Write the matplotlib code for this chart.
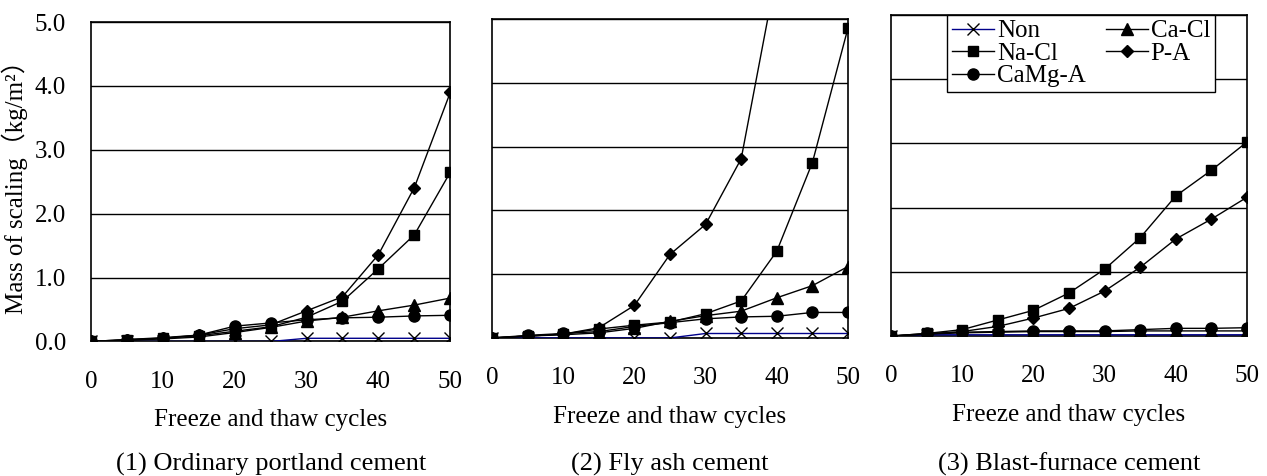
import matplotlib.pyplot as plt
import numpy as np

plt.rcParams['font.family'] = ['Liberation Serif', 'Noto Sans CJK JP']
plt.rcParams['font.size'] = 18

# freeze-thaw cycles
cycles = [0, 5, 10, 15, 20, 25, 30, 35, 40, 45, 50]

# (1) Ordinary portland cement
opc_non = [0.0, 0.0, 0.0, 0.0, 0.0, 0.0, 0.05, 0.05, 0.05, 0.05, 0.05]
opc_cacl = [0.0, 0.02, 0.04, 0.07, 0.14, 0.22, 0.32, 0.38, 0.48, 0.57, 0.68]
opc_nacl = [0.0, 0.02, 0.05, 0.09, 0.16, 0.23, 0.38, 0.63, 1.14, 1.67, 2.65]
opc_pa = [0.0, 0.03, 0.06, 0.10, 0.20, 0.26, 0.48, 0.70, 1.36, 2.41, 3.90]
opc_camg = [0.0, 0.03, 0.05, 0.10, 0.24, 0.29, 0.34, 0.37, 0.38, 0.40, 0.41]

# (2) Fly ash cement
fa_non = [0.0, 0.0, 0.0, 0.0, 0.0, 0.0, 0.07, 0.07, 0.07, 0.07, 0.07]
fa_cacl = [0.0, 0.03, 0.05, 0.08, 0.15, 0.26, 0.35, 0.42, 0.63, 0.82, 1.12]
fa_nacl = [0.0, 0.03, 0.06, 0.14, 0.20, 0.25, 0.38, 0.58, 1.36, 2.75, 4.86]
fa_pa = [0.0, 0.03, 0.06, 0.16, 0.51, 1.31, 1.78, 2.81, 5.75, np.nan, np.nan]
fa_camg = [0.0, 0.04, 0.07, 0.10, 0.18, 0.24, 0.30, 0.33, 0.34, 0.40, 0.40]

# (3) Blast-furnace cement
bf_non = [0.0, 0.02, 0.02, 0.02, 0.02, 0.02, 0.02, 0.02, 0.02, 0.02, 0.02]
bf_cacl = [0.0, 0.03, 0.05, 0.06, 0.07, 0.07, 0.07, 0.08, 0.08, 0.08, 0.08]
bf_nacl = [0.0, 0.04, 0.10, 0.25, 0.40, 0.67, 1.04, 1.53, 2.18, 2.58, 3.02]
bf_pa = [0.0, 0.03, 0.07, 0.15, 0.28, 0.43, 0.70, 1.07, 1.51, 1.82, 2.16]
bf_camg = [0.0, 0.04, 0.06, 0.07, 0.08, 0.08, 0.08, 0.10, 0.12, 0.12, 0.13]

captions = ['(1) Ordinary portland cement', '(2) Fly ash cement', '(3) Blast-furnace cement']
panels = [
    [opc_non, opc_cacl, opc_nacl, opc_pa, opc_camg],
    [fa_non, fa_cacl, fa_nacl, fa_pa, fa_camg],
    [bf_non, bf_cacl, bf_nacl, bf_pa, bf_camg],
]
names = ['Non', 'Ca-Cl', 'Na-Cl', 'P-A', 'CaMg-A']
markers = ['x', '^', 's', 'D', 'o']
sizes = [8, 8, 7.5, 6.5, 8]

# axes boxes in figure fraction [left, bottom, width, height]
boxes = [
    [0.0718, 0.2826, 0.2836, 0.671],
    [0.3883, 0.2900, 0.2810, 0.670],
    [0.7032, 0.2940, 0.2810, 0.675],
]

fig = plt.figure(figsize=(12.67, 4.76), dpi=100)

for k in range(3):
    ax = fig.add_axes(boxes[k])
    handles = {}
    for name, ys, m, s in zip(names, panels[k], markers, sizes):
        lc = '#00008b' if name == 'Non' else 'black'
        h, = ax.plot(cycles, ys, color=lc, lw=1.0, marker=m, ms=s,
                     mfc='black', mec='black', mew=1.0, label=name, zorder=3)
        handles[name] = h
    ax.set_xlim(0, 50)
    ax.set_ylim(0, 5)
    ax.set_xticks(np.arange(0, 51, 10))
    ax.set_yticks(np.arange(0, 5.1, 1.0))
    ax.yaxis.grid(True, color='black', lw=1.0)
    ax.set_axisbelow(True)
    for sp in ax.spines.values():
        sp.set_color('black')
        sp.set_linewidth(1.2)
    ax.tick_params(length=0, labelsize=18)
    ax.tick_params(axis='x', pad=21)
    ax.tick_params(axis='y', pad=18)
    if k == 0:
        ax.set_yticklabels(['%.1f' % v for v in np.arange(0, 5.1, 1.0)])
    else:
        ax.set_yticklabels([])
    ax.set_xlabel('Freeze and thaw cycles', fontsize=18, labelpad=12)
    b = boxes[k]
    fig.text(b[0] + b[2] / 2, 0.025, captions[k], ha='center', va='center', fontsize=19)
    if k == 2:
        order = ['Non', 'Na-Cl', 'CaMg-A', 'Ca-Cl', 'P-A']
        leg = ax.legend([handles[n] for n in order], order, ncol=2, loc='upper left',
                        bbox_to_anchor=(0.157, 1.0), borderaxespad=0, fancybox=False,
                        framealpha=1, edgecolor='black', fontsize=18, handlelength=1.7,
                        handletextpad=0.1, columnspacing=0.8, labelspacing=0.0,
                        borderpad=0.2)
        leg.get_frame().set_linewidth(1.0)

fig.text(0.012, 0.62, 'Mass of scaling（kg/m²）', rotation=90, ha='center', va='center', fontsize=18)

fig.savefig('out.png', dpi=100)
